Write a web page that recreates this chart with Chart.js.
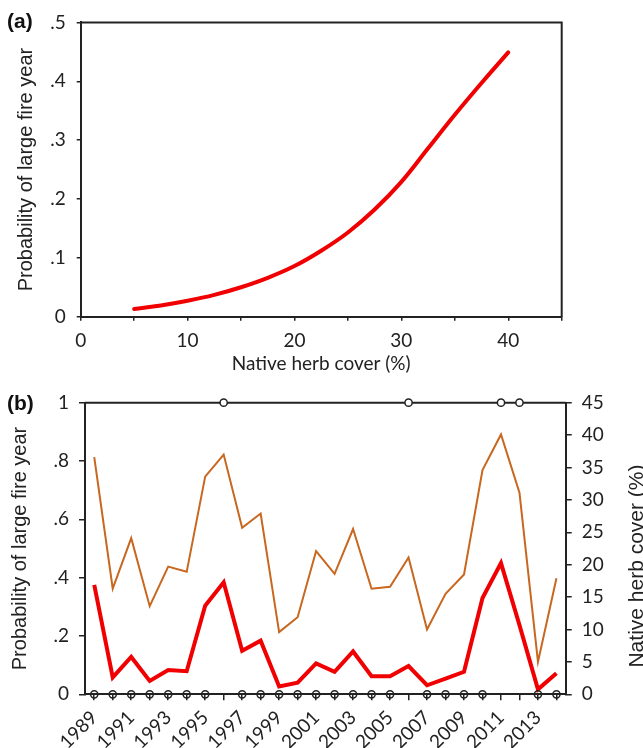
<!DOCTYPE html>
<html>
<head>
<meta charset="utf-8">
<script src="https://cdn.jsdelivr.net/npm/chart.js@4.4.1/dist/chart.umd.min.js"></script>
<style>
  body { margin: 0; background: #fff; }
  #page { position: relative; width: 643px; height: 748px; background: #fff; }
  .panel { position: absolute; left: 0; }
  .tag { position: absolute; font: bold 21px "Liberation Sans", Arial, sans-serif; color: #111; }
  #rightTitle {
    position: absolute; width: 260px; height: 24px; line-height: 24px; text-align: center;
    font: 21px "Liberation Sans", Arial, sans-serif; color: #222;
    left: 506px; top: 554px; transform: rotate(-90deg);
  }
</style>
</head>
<body>
<div id="page">
  <canvas id="chartA" class="panel" style="top:0" width="643" height="375"></canvas>
  <canvas id="chartB" class="panel" style="top:375px" width="643" height="373"></canvas>
  <div class="tag" style="left:7px;top:9px">(a)</div>
  <div class="tag" style="left:7px;top:391px">(b)</div>
  <div id="rightTitle">Native herb cover (%)</div>
</div>
<script>
// (a) fitted probability vs native herb cover
var herbCover = [5, 7.5, 10, 12.5, 15, 17.5, 20, 22.5, 25, 27.5, 30, 32.5, 35, 37.5, 40];
var fitProb = [0.013, 0.019, 0.027, 0.037, 0.050, 0.066, 0.086, 0.112, 0.143, 0.182, 0.229, 0.286, 0.343, 0.397, 0.449];

// (b) yearly series
var years = ["1989", "1990", "1991", "1992", "1993", "1994", "1995", "1996", "1997", "1998", "1999", "2000", "2001",
             "2002", "2003", "2004", "2005", "2006", "2007", "2008", "2009", "2010", "2011", "2012", "2013", "2014"];
var yearProb = [0.375, 0.058, 0.128, 0.046, 0.083, 0.079, 0.304, 0.384, 0.149, 0.184, 0.027, 0.040, 0.106,
                0.077, 0.147, 0.062, 0.062, 0.097, 0.031, 0.054, 0.077, 0.330, 0.450, 0.237, 0.017, 0.072];
var yearHerb = [36.6, 16.3, 24.1, 13.6, 19.7, 18.9, 33.6, 37.0, 25.7, 27.9, 9.6, 11.9, 22.1,
                18.6, 25.5, 16.3, 16.6, 21.1, 10.0, 15.5, 18.5, 34.6, 40.1, 31.1, 5.0, 17.9];
var largeFire = [0, 0, 0, 0, 0, 0, 0, 1, 0, 0, 0, 0, 0,
                 0, 0, 0, 0, 1, 0, 0, 0, 0, 1, 1, 0, 0];

var ink = '#222';
var tickFont = { family: 'Lato', size: 19 };
var probLabel = function (v) {
  if (v === 0) return '0';
  if (Math.abs(v - 1) < 1e-9) return '1';
  return v.toFixed(1).replace(/^0/, '');
};

// frame lines that are not axes
var frame = {
  id: 'frame',
  beforeDatasetsDraw: function (chart, args, opts) {
    var a = chart.chartArea, c = chart.ctx;
    c.save();
    c.strokeStyle = ink;
    c.lineWidth = 2;
    c.beginPath();
    c.moveTo(a.left, a.top);
    c.lineTo(a.right, a.top);
    if (opts.right) c.lineTo(a.right, a.bottom);
    c.stroke();
    c.restore();
  }
};

function build() {
  new Chart(document.getElementById('chartA'), {
    type: 'line',
    data: {
      datasets: [{
        data: herbCover.map(function (x, i) { return { x: x, y: fitProb[i] }; }),
        borderColor: 'rgb(240,0,0)',
        borderWidth: 4,
        pointRadius: 0,
        tension: 0.4,
        borderCapStyle: 'round'
      }]
    },
    options: {
      responsive: false,
      animation: false,
      layout: { padding: { top: 16.7, right: 81.3, left: 0, bottom: 0 } },
      plugins: { legend: { display: false }, tooltip: { enabled: false }, frame: { right: true } },
      scales: {
        x: {
          type: 'linear', min: 0, max: 45,
          afterFit: function (s) { s.height = 58.3; },
          border: { display: true, color: ink, width: 2 },
          grid: { drawOnChartArea: false, tickLength: 4, color: ink, lineWidth: 1.5 },
          ticks: {
            stepSize: 5, autoSkip: false, maxRotation: 0, padding: 9, color: ink, font: tickFont,
            callback: function (v) { return v % 10 === 0 ? String(v) : ''; }
          },
          title: { display: true, text: 'Native herb cover (%)', color: ink,
                   font: { family: 'Lato', size: 19 }, padding: { top: 0, bottom: 0 } }
        },
        y: {
          min: 0, max: 0.5,
          afterFit: function (s) { s.width = 80.7; },
          border: { display: true, color: ink, width: 2 },
          grid: { drawOnChartArea: false, tickLength: 4, color: ink, lineWidth: 1.5 },
          ticks: { stepSize: 0.1, padding: 11, color: ink, font: tickFont, callback: probLabel },
          title: { display: true, text: 'Probability of large fire year', color: ink,
                   font: { family: 'Liberation Sans', size: 20 }, padding: { top: 14, bottom: 0 } }
        }
      }
    },
    plugins: [frame]
  });

  new Chart(document.getElementById('chartB'), {
    type: 'line',
    data: {
      labels: years,
      datasets: [{
        data: largeFire,
        yAxisID: 'y',
        showLine: false,
        clip: false,
        pointRadius: 3.6,
        pointBorderWidth: 1.5,
        pointBorderColor: ink,
        pointBackgroundColor: function (ctx) { return ctx.raw === 1 ? '#fff' : 'rgba(0,0,0,0)'; }
      }, {
        data: yearProb,
        yAxisID: 'y',
        borderColor: 'rgb(240,0,0)',
        borderWidth: 4,
        pointRadius: 0,
        tension: 0
      }, {
        data: yearHerb,
        yAxisID: 'y1',
        borderColor: '#c8671f',
        borderWidth: 2,
        pointRadius: 0,
        tension: 0
      }]
    },
    options: {
      responsive: false,
      animation: false,
      layout: { padding: { top: 27.7, right: 0, left: 0, bottom: 0 } },
      plugins: { legend: { display: false }, tooltip: { enabled: false }, frame: { right: false } },
      scales: {
        x: {
          type: 'category', offset: true,
          afterFit: function (s) { s.height = 53.7; },
          border: { display: true, color: ink, width: 2 },
          grid: { offset: false, drawOnChartArea: false, tickLength: 6, color: ink, lineWidth: 1.5 },
          ticks: {
            autoSkip: false, minRotation: 45, maxRotation: 45, padding: 6, color: ink,
            font: { family: 'Lato', size: 19 },
            callback: function (v, i) { return i % 2 === 0 ? this.getLabelForValue(v) : ''; }
          }
        },
        y: {
          position: 'left', min: 0, max: 1,
          afterFit: function (s) { s.width = 85; },
          border: { display: true, color: ink, width: 2 },
          grid: { drawOnChartArea: false, tickLength: 6, color: ink, lineWidth: 1.5 },
          ticks: { stepSize: 0.2, padding: 10, color: ink, font: tickFont, callback: probLabel },
          title: { display: true, text: 'Probability of large fire year', color: ink,
                   font: { family: 'Liberation Sans', size: 20 }, padding: { top: 8, bottom: 0 } }
        },
        y1: {
          position: 'right', min: 0, max: 45,
          afterFit: function (s) { s.width = 77.3; },
          border: { display: true, color: ink, width: 2 },
          grid: { drawOnChartArea: false, tickLength: 6, color: ink, lineWidth: 1.5 },
          ticks: { stepSize: 5, padding: 10, color: ink, font: tickFont }
        }
      }
    },
    plugins: [frame]
  });
}

Promise.all([
  document.fonts.load('19px Lato'),
  document.fonts.load('20px "Liberation Sans"')
]).then(build, build);
</script>
</body>
</html>
